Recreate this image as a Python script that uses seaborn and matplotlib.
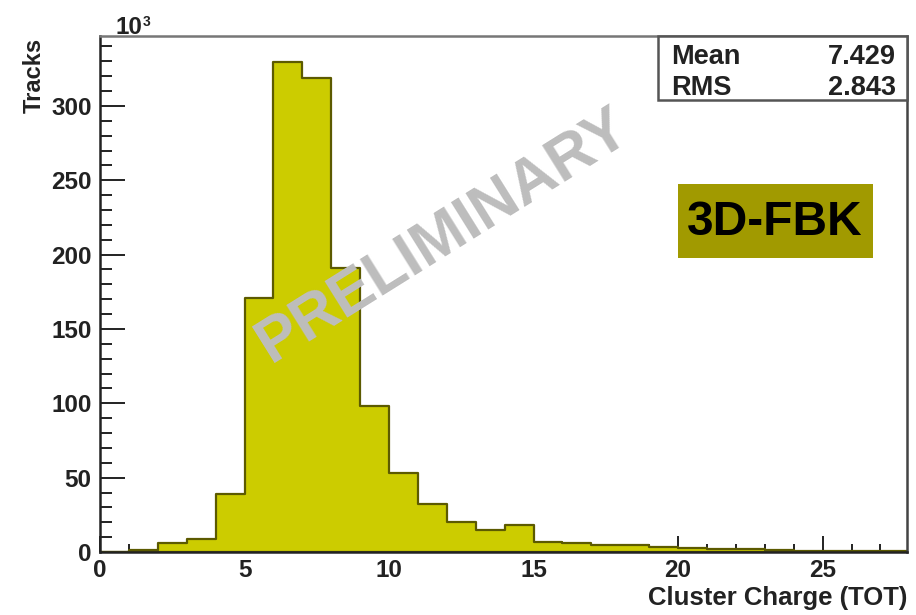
import numpy as np
import pandas as pd
import matplotlib
matplotlib.use("Agg")
import matplotlib.pyplot as plt
import seaborn as sns
from matplotlib.patches import Rectangle
from matplotlib.ticker import MultipleLocator

# ---- data (thousands of tracks per unit-wide TOT bin) ----
bin_edges = list(range(0, 29))
bin_counts = [0, 1.5, 6, 9, 39, 171, 329.5, 319, 191, 98, 53, 32, 20, 15, 18,
              7, 5.8, 5, 4.5, 3.6, 2.9, 2.3, 1.8, 1.4, 1.0, 0.8, 0.6, 0.4]
stat_names = ["Mean", "RMS"]
stat_values = ["7.429", "2.843"]
x_label = "Cluster Charge (TOT)"
y_label = "Tracks"
tag_text = "3D-FBK"
watermark = "PRELIMINARY"

centers = [e + 0.5 for e in bin_edges[:-1]]
df = pd.DataFrame({"tot": centers, "n": bin_counts})

sns.set_theme(style="ticks")
FONT = ["Liberation Sans", "DejaVu Sans"]
plt.rcParams["font.family"] = FONT
plt.rcParams["font.weight"] = "bold"

W, H = 916, 615
fig = plt.figure(figsize=(W / 100, H / 100), dpi=100)
fig.patch.set_facecolor("white")
ax = fig.add_axes([100 / W, 1 - 552 / H, (907 - 100) / W, (552 - 36) / H])

sns.histplot(data=df, x="tot", weights="n", bins=bin_edges, element="step",
             fill=True, color="#cccc00", alpha=1.0, edgecolor="#5c5a00",
             linewidth=1.6, ax=ax)

ax.set_xlim(0, 27.92)
ax.set_ylim(0, 347)
ax.set_facecolor("white")
for s in ax.spines.values():
    s.set_visible(True)
    s.set_linewidth(1.8)
    s.set_color("#222222")
ax.spines["top"].set_color("#777777")
ax.spines["right"].set_color("#444444")

ax.xaxis.set_major_locator(MultipleLocator(5))
ax.xaxis.set_minor_locator(MultipleLocator(1))
ax.yaxis.set_major_locator(MultipleLocator(50))
ax.yaxis.set_minor_locator(MultipleLocator(10))
ax.tick_params(axis="both", which="both", direction="in", top=False, right=False,
               colors="#222222", width=1.4, labelsize=17.5)
ax.tick_params(axis="y", which="major", length=18, pad=6)
ax.tick_params(axis="y", which="minor", length=8.5)
ax.tick_params(axis="x", which="major", length=11.5, pad=5)
ax.tick_params(axis="x", which="minor", length=5.8)
for lab in ax.get_xticklabels() + ax.get_yticklabels():
    lab.set_fontweight("bold")
    lab.set_color("#222222")

ax.set_xlabel("")
ax.set_ylabel("")

# axis titles (ROOT style: aligned to the ends)
fig.text(907 / W, 1 - 598 / H, x_label, ha="right", va="center",
         fontsize=18.5, fontweight="bold", color="#222222", family=FONT)
fig.text(34 / W, 1 - 38 / H, y_label, ha="center", va="top", rotation=90,
         fontsize=17, fontweight="bold", color="#222222", family=FONT)
# 10^3 multiplier
fig.text(116 / W, 1 - 34 / H, "10", ha="left", va="baseline",
         fontsize=17.5, fontweight="bold", color="#222222", family=FONT)
fig.text(143 / W, 1 - 26 / H, "3", ha="left", va="baseline",
         fontsize=10, fontweight="bold", color="#222222", family=FONT)

# stats box
fig.patches.append(Rectangle((658 / W, 1 - 100 / H), (907 - 658) / W, (100 - 36) / H,
                             transform=fig.transFigure, facecolor="white",
                             edgecolor="#555555", linewidth=1.8, zorder=5))
rows_y = [64, 95]
for name, val, yy in zip(stat_names, stat_values, rows_y):
    fig.text(671 / W, 1 - yy / H, name, ha="left", va="baseline", fontsize=19.5,
             fontweight="bold", color="#222222", family=FONT, zorder=6)
    fig.text(896 / W, 1 - yy / H, val, ha="right", va="baseline", fontsize=19.5,
             fontweight="bold", color="#222222", family=FONT, zorder=6)

# detector tag
fig.patches.append(Rectangle((678 / W, 1 - 258 / H), (873 - 678) / W, (258 - 184) / H,
                             transform=fig.transFigure, facecolor="#a19a00",
                             edgecolor="none", zorder=5))
fig.text(775 / W, 1 - 223 / H, tag_text, ha="center", va="center", fontsize=34.5,
         fontweight="bold", color="black", family=FONT, zorder=6)

# watermark
fig.text(443 / W, 1 - 236 / H, watermark, ha="center", va="center", rotation=32,
         rotation_mode="anchor", fontsize=45, fontweight="bold", color="#bdbdbd",
         family=FONT, zorder=7)

fig.savefig("out.png", dpi=100)
